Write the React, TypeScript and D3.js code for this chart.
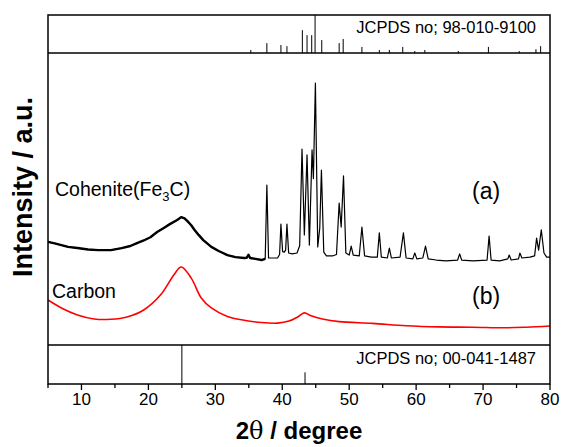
import React from 'react';
import * as d3 from 'd3';

// XRD patterns (2θ in degrees, intensity in arbitrary units 0-100)
const cohenite: [number, number][] = [
  [5, 35.3], [6, 34.8], [7, 34.2], [8, 33.6], [9.4, 33.2], [11, 32.7], [12.5, 32.5], [14.4, 32.5],
  [16, 33.2], [17.3, 33.9], [18.3, 34.9], [19.3, 35.8], [20.3, 36.9], [21.3, 38.7], [22.3, 40.1],
  [23.2, 41.4], [24.3, 42.8], [24.9, 43.8], [25.4, 43.4], [25.8, 42.5], [26.4, 41.0], [26.9, 39.4],
  [27.5, 37.7], [28.2, 35.9], [29.4, 33.6], [30.5, 32.2], [31.8, 30.8], [33, 30.1], [34.3, 29.8],
  [34.7, 29.9], [34.95, 30.9], [35.2, 29.8], [36, 29.5], [36.9, 29.1], [37.45, 29.5], [37.7, 54.8],
  [37.95, 29.8], [39.3, 29.8], [39.6, 31.0], [39.8, 41.4], [40.05, 32.0], [40.3, 31.8], [40.5, 32.5],
  [40.7, 41.4], [40.95, 31.5], [41.5, 31.2], [42.2, 31.5], [42.6, 34.0], [42.95, 67.1], [43.3, 37.7],
  [43.7, 65.1], [44.05, 34.2], [44.45, 66.8], [44.65, 57.0], [44.95, 89.7], [45.3, 33.6], [45.6, 40],
  [45.85, 59.9], [46.2, 31.8], [46.6, 30.5], [47.5, 30.5], [48.1, 31.0], [48.5, 48.6], [48.8, 40.4],
  [49.15, 57.9], [49.5, 31.5], [50.0, 30.8], [50.3, 33.9], [50.6, 30.8], [51.5, 30.5], [51.9, 40.4],
  [52.3, 30.5], [53.3, 30.1], [54.2, 30.1], [54.5, 38.4], [54.8, 30.1], [55.7, 29.8], [56.0, 33.2],
  [56.3, 29.8], [57.6, 30.1], [58.1, 38.4], [58.5, 29.8], [59.5, 29.5], [59.8, 31.5], [60.1, 29.5],
  [61.0, 29.8], [61.4, 33.9], [61.8, 29.5], [63, 29.1], [64.5, 28.8], [66.2, 29.1], [66.5, 31.2],
  [66.8, 29.1], [68.5, 28.8], [70.6, 29.1], [70.9, 37.3], [71.2, 29.1], [72.5, 28.8], [73.7, 29.5],
  [73.9, 30.8], [74.2, 29.1], [75.3, 29.5], [75.5, 31.5], [75.8, 29.8], [77.0, 30.1], [77.7, 30.5],
  [78.0, 36.6], [78.3, 32.5], [78.7, 39.4], [79.1, 31.5], [79.5, 30.1], [80, 30.1],
];

const carbon: [number, number][] = [
  [5, 15.4], [7, 12.7], [9.4, 10.3], [11.9, 8.9], [14.4, 8.8], [16.8, 9.6], [19.3, 12.0],
  [21.8, 17.1], [23.8, 24.0], [24.9, 26.7], [26.4, 22.9], [27.9, 16.1], [29.4, 12.7], [31.8, 9.8],
  [34.3, 8.5], [36.9, 7.7], [39.3, 7.5], [41.0, 8.2], [42.3, 9.6], [43.3, 11.0], [44.3, 10.0],
  [46.0, 8.9], [48.5, 8.0], [53.5, 7.4], [58.5, 6.6], [63.4, 6.2], [68.4, 6.1], [73.4, 5.9],
  [76.5, 6.1], [80, 6.5],
];

// reference stick patterns (relative intensity %)
const fe3cRefPos = [35.3, 37.7, 39.8, 40.7, 43.0, 43.7, 44.4, 44.9, 45.9, 48.5, 49.1, 51.9, 54.5, 56.0, 58.0, 59.8, 61.3, 66.3, 70.8, 75.4, 77.9, 78.6];
const fe3cRefInt = [8, 26, 21, 18, 60, 47, 47, 100, 34, 26, 37, 16, 8, 8, 16, 5, 8, 5, 16, 5, 10, 18];
const carbonRefPos = [25.0, 43.4];
const carbonRefInt = [100, 30];

const xTicks = [10, 20, 30, 40, 50, 60, 70, 80];
const xMinorTicks = [5, 15, 25, 35, 45, 55, 65, 75];

const font = '"Liberation Sans", Arial, sans-serif';

export default function App() {
  const left = 48, right = 550;
  const topY0 = 15, topY1 = 53, mainY1 = 345, botY1 = 384;

  const x = d3.scaleLinear().domain([5, 80]).range([left, right]);
  const yTop = d3.scaleLinear().domain([0, 100]).range([topY1, topY0]);
  const yMain = d3.scaleLinear().domain([0, 100]).range([mainY1, topY1]);
  const yBot = d3.scaleLinear().domain([0, 100]).range([botY1, mainY1]);

  const lineA = d3.line<[number, number]>().x(d => x(d[0])).y(d => yMain(d[1]));
  const lineB = d3.line<[number, number]>().x(d => x(d[0])).y(d => yMain(d[1])).curve(d3.curveCatmullRom.alpha(0.5));

  // the broad amorphous hump is noisy in the original, drawn thicker
  const hump = cohenite.filter(d => d[0] <= 37.45);

  return (
    <svg width={563} height={447} style={{ position: 'absolute', left: 0, top: 0, background: '#fff' }}>
      {/* data curves */}
      <path d={lineB(carbon) || ''} fill="none" stroke="#ff0000" strokeWidth={1.6} />
      <path d={lineA(cohenite) || ''} fill="none" stroke="#000" strokeWidth={1.2} strokeLinejoin="round" />
      <path d={lineA(hump) || ''} fill="none" stroke="#000" strokeWidth={2.4} strokeLinejoin="round" />

      {/* reference sticks */}
      {fe3cRefPos.map((p, i) => (
        <line key={'t' + i} x1={x(p)} x2={x(p)} y1={yTop(0)} y2={yTop(fe3cRefInt[i])} stroke="#000" strokeWidth={1} />
      ))}
      {carbonRefPos.map((p, i) => (
        <line key={'b' + i} x1={x(p)} x2={x(p)} y1={yBot(0)} y2={yBot(carbonRefInt[i])} stroke="#000" strokeWidth={1} />
      ))}

      {/* panel frames */}
      <rect x={left} y={topY0} width={right - left} height={botY1 - topY0} fill="none" stroke="#000" strokeWidth={1.5} />
      <line x1={left} x2={right} y1={topY1} y2={topY1} stroke="#000" strokeWidth={1.5} />
      <line x1={left} x2={right} y1={mainY1} y2={mainY1} stroke="#000" strokeWidth={1.5} />

      {/* x axis ticks */}
      {xTicks.map(t => (
        <g key={'x' + t}>
          <line x1={x(t)} x2={x(t)} y1={botY1} y2={botY1 + 6} stroke="#000" strokeWidth={1.3} />
          <text x={x(t)} y={405} textAnchor="middle" fontFamily={font} fontSize={17}>{t}</text>
        </g>
      ))}
      {xMinorTicks.map(t => (
        <line key={'m' + t} x1={x(t)} x2={x(t)} y1={botY1} y2={botY1 + 4} stroke="#000" strokeWidth={1.3} />
      ))}

      {/* labels */}
      <text x={536} y={33} textAnchor="end" fontFamily={font} fontSize={16.5}>JCPDS no; 98-010-9100</text>
      <text x={536} y={364} textAnchor="end" fontFamily={font} fontSize={16.5}>JCPDS no; 00-041-1487</text>
      <text x={55} y={196} fontFamily={font} fontSize={19.5}>
        Cohenite(Fe<tspan fontSize={13} dy={5}>3</tspan><tspan dy={-5}>C)</tspan>
      </text>
      <text x={52} y={298} fontFamily={font} fontSize={19.5}>Carbon</text>
      <text x={472} y={199} fontFamily={font} fontSize={23}>(a)</text>
      <text x={472} y={304} fontFamily={font} fontSize={23}>(b)</text>

      <text x={299} y={439} textAnchor="middle" fontFamily={font} fontSize={24} fontWeight="bold">
        2<tspan fontFamily='"DejaVu Serif", serif' fontWeight="normal">θ</tspan> / degree
      </text>
      <text transform="translate(32,187) rotate(-90)" textAnchor="middle" fontFamily={font} fontSize={27} fontWeight="bold">
        Intensity / a.u.
      </text>
    </svg>
  );
}
